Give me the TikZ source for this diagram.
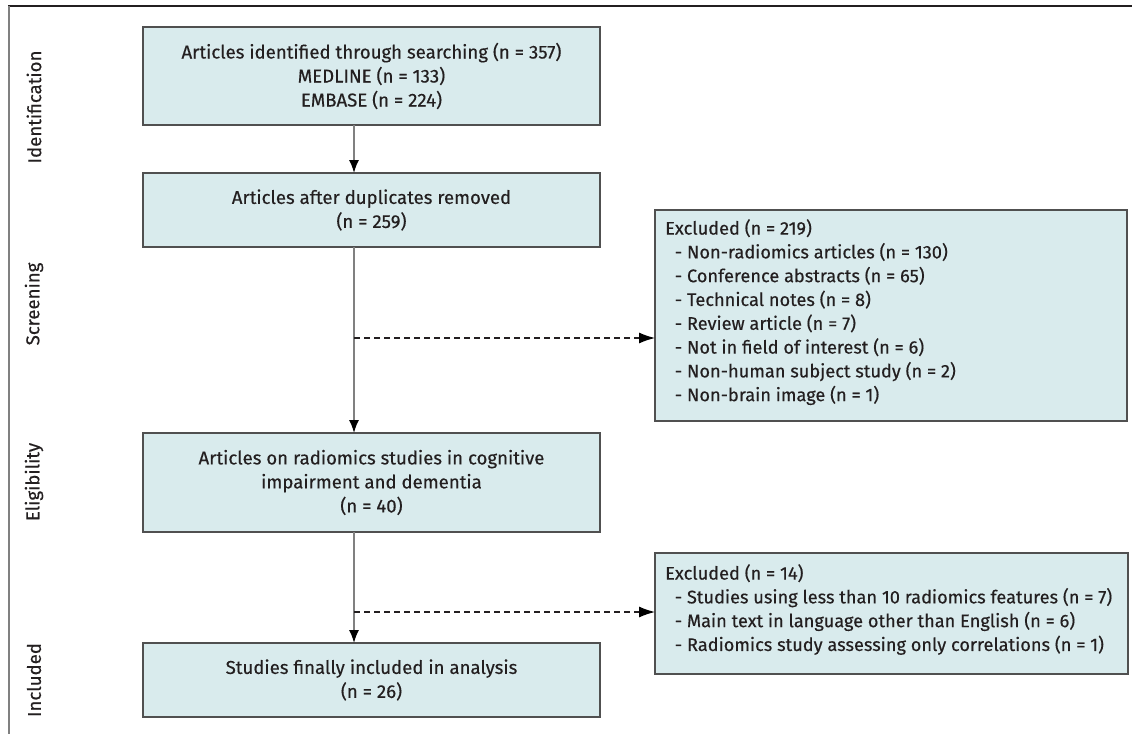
\documentclass[tikz,border=0pt]{standalone}
\usepackage{fontspec}
\setmainfont{Fira Sans}[FakeBold=0.35]
\usetikzlibrary{arrows.meta,positioning}
\definecolor{boxfill}{HTML}{D9EBED}
\definecolor{boxline}{HTML}{505050}
\definecolor{conn}{HTML}{808080}
\definecolor{ink}{HTML}{231F20}
\tikzset{
  mainbox/.style={draw=boxline, fill=boxfill, line width=1.3pt, minimum width=457pt, inner sep=0pt, outer sep=0pt, align=center, font=\fontsize{18.6}{24}\selectfont, text=ink},
  exbox/.style={draw=boxline, fill=boxfill, line width=1.3pt, inner sep=0pt, outer sep=0pt, anchor=north west},
  extext/.style={anchor=north west, inner sep=0pt, align=left, font=\fontsize{18.2}{23.8}\selectfont, text=ink},
  flow/.style={draw=conn, line width=1.5pt, -{Latex[length=13pt,width=10pt,black]}},
  dflow/.style={draw=ink, line width=1.2pt, dash pattern=on 6pt off 4pt, -{Latex[length=16pt,width=11pt,black]}},
  phase/.style={rotate=90, font=\fontsize{18.6}{24}\selectfont, text=ink}
}
\begin{document}
\begin{tikzpicture}[x=1pt,y=-1pt]
\useasboundingbox (0,0) rectangle (1132,734);
\fill[white] (0,0) rectangle (1132,734);
% frame lines
\draw[ink, line width=2pt] (8,6) -- (1132,6);
\draw[conn, line width=1.5pt] (9,6) -- (9,734);
% phase labels
\node[phase] (pid) at (34,107) {Identification};
\node[phase] (psc) at (34,304) {Screening};
\node[phase] (pel) at (34,482) {Eligibility};
\node[phase] (pin) at (34,680) {Included};
% main boxes
\node[mainbox, minimum height=98pt] (b1) at (371.5,76) {Articles identified through searching (n = 357)\\MEDLINE (n = 133)\\EMBASE (n = 224)};
\node[mainbox, minimum height=74pt] (b2) at (371.5,210) {Articles after duplicates removed\\(n = 259)};
\node[mainbox, minimum height=99pt] (b3) at (371.5,482.5) {Articles on radiomics studies in cognitive\\impairment and dementia\\(n = 40)};
\node[mainbox, minimum height=74pt] (b4) at (371.5,680) {Studies finally included in analysis\\(n = 26)};
% excluded boxes
\node[exbox, minimum width=472pt, minimum height=211pt] (e1) at (655,210) {};
\node[extext] (e1t) at (665,219) {Excluded (n = 219)\\
\ \ - Non-radiomics articles (n = 130)\\
\ \ - Conference abstracts (n = 65)\\
\ \ - Technical notes (n = 8)\\
\ \ - Review article (n = 7)\\
\ \ - Not in field of interest (n = 6)\\
\ \ - Non-human subject study (n = 2)\\
\ \ - Non-brain image (n = 1)};
\node[exbox, minimum width=473pt, minimum height=121pt] (e2) at (655,553) {};
\node[extext] (e2t) at (665,564) {Excluded (n = 14)\\
\ \ - Studies using less than 10 radiomics features (n = 7)\\
\ \ - Main text in language other than English (n = 6)\\
\ \ - Radiomics study assessing only correlations (n = 1)};
% connectors
\coordinate (ax) at (354,0);
\coordinate (d1) at (354,338);
\coordinate (d2) at (354,612);
\draw[flow] (ax |- b1.south) -- (ax |- b2.north);
\draw[flow] (ax |- b2.south) -- (ax |- b3.north);
\draw[flow] (ax |- b3.south) -- (ax |- b4.north);
\draw[dflow] (d1) -- (d1 -| e1.west);
\draw[dflow] (d2) -- (d2 -| e2.west);
\end{tikzpicture}
\end{document}
